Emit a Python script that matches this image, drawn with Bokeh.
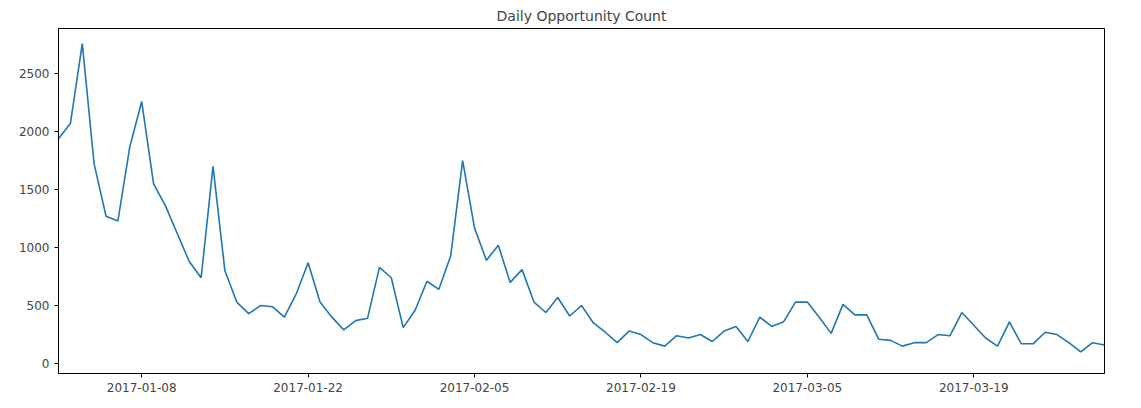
import numpy as np
import pandas as pd
from bokeh.plotting import figure
from bokeh.models import FixedTicker, DatetimeTickFormatter, Range1d
from bokeh.embed import file_html
from bokeh.resources import INLINE

dates = pd.date_range("2017-01-01", periods=89, freq="D")
counts = [1940, 2070, 2760, 1720, 1270, 1230, 1870, 2260, 1550, 1360,
          1120, 880, 740, 1700, 800, 530, 430, 500, 490, 400,
          600, 870, 530, 400, 290, 370, 390, 830, 740, 310,
          460, 710, 640, 930, 1750, 1170, 890, 1020, 700, 810,
          530, 440, 570, 410, 500, 350, 270, 180, 280, 250,
          180, 150, 240, 220, 250, 190, 280, 320, 190, 400,
          320, 360, 530, 530, 400, 260, 510, 420, 420, 210,
          200, 150, 180, 180, 250, 240, 440, 330, 220, 150,
          360, 170, 170, 270, 250, 180, 100, 180, 160]
tick_dates = ["2017-01-08", "2017-01-22", "2017-02-05", "2017-02-19", "2017-03-05", "2017-03-19"]

p = figure(title="Daily Opportunity Count", x_axis_type="datetime",
           frame_width=1046, frame_height=345, min_border_left=58, min_border_right=12,
           min_border_top=8, min_border_bottom=20,
           output_backend="svg", toolbar_location=None)
p.line(dates, counts, line_color="#1f77b4", line_width=1.6)

p.x_range = Range1d(dates[0], dates[-1])
p.y_range = Range1d(-86, 2890)
p.xaxis.ticker = FixedTicker(ticks=[pd.Timestamp(d).value / 1e6 for d in tick_dates])
fmt = "%Y-%m-%d"
p.xaxis.formatter = DatetimeTickFormatter(days=fmt, months=fmt, hours=fmt, years=fmt)
p.yaxis.ticker = FixedTicker(ticks=[0, 500, 1000, 1500, 2000, 2500])

p.title.align = "center"
p.title.text_font_style = "normal"
p.title.text_font = "DejaVu Sans"
p.title.text_font_size = "14px"
p.grid.visible = False
p.outline_line_color = "black"
for ax in (p.xaxis, p.yaxis):
    ax.minor_tick_line_color = None
    ax.major_label_text_font = "DejaVu Sans"
    ax.major_label_text_font_size = "12px"
    ax.major_tick_in = 0
    ax.major_tick_out = 4

open("out.html", "w").write(file_html(p, INLINE))
